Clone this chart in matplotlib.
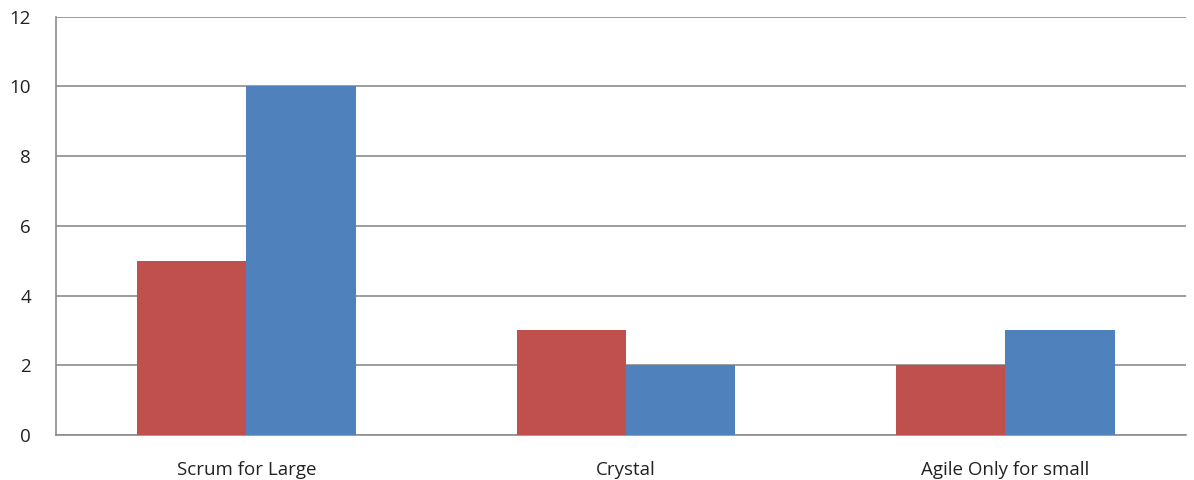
import matplotlib
matplotlib.use("Agg")
import matplotlib.pyplot as plt
import numpy as np

# datos del grafico
categorias = ["Scrum for Large", "Crystal", "Agile Only for small"]
serie_roja = [5, 3, 2]
serie_azul = [10, 2, 3]

plt.rcParams['font.family'] = ['Open Sans', 'DejaVu Sans']

fig = plt.figure(figsize=(11.94, 4.8), dpi=100)
ax = fig.add_axes([0.0469, 0.094, 0.9464, 0.871])

x = np.arange(len(categorias))
ancho = 0.288
ax.bar(x - ancho / 2, serie_roja, ancho, color="#C0504D", zorder=3)
ax.bar(x + ancho / 2, serie_azul, ancho, color="#4F81BD", zorder=3)

ax.set_xlim(-0.502, 2.476)
ax.set_ylim(0, 12)
ax.set_yticks(range(0, 13, 2))
ax.set_xticks(x)
ax.set_xticklabels(categorias)
ax.grid(axis="y", color="#8c8c8c", linewidth=1.2, zorder=0)
ax.tick_params(length=0, labelsize=13.5, colors="#222222")
ax.tick_params(axis="x", pad=19)
ax.tick_params(axis="y", pad=18)

for lado in ["top", "right"]:
    ax.spines[lado].set_visible(False)
ax.spines["left"].set_color("#8c8c8c")
ax.spines["bottom"].set_color("#8c8c8c")
ax.spines["left"].set_linewidth(1.2)
ax.spines["bottom"].set_linewidth(1.2)

fig.savefig("out.png", dpi=100)
